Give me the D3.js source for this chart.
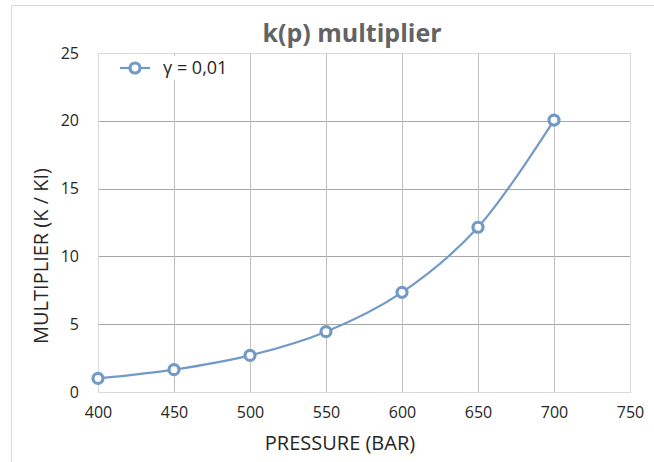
<!DOCTYPE html>
<html>
<head>
<meta charset="utf-8">
<script src="https://cdn.jsdelivr.net/npm/d3@7"></script>
<style>
  body { margin: 0; background: #fff; }
  text { font-family: "Open Sans", "Noto Sans", sans-serif; }
</style>
</head>
<body>
<div id="chart"></div>
<script>
// Chart data
const pressures = [400, 450, 500, 550, 600, 650, 700];
const multipliers = [1.0, 1.65, 2.7, 4.45, 7.35, 12.15, 20.05];
const xTicks = [400, 450, 500, 550, 600, 650, 700, 750];
const yTicks = [0, 5, 10, 15, 20, 25];
const seriesName = "γ = 0,01";

const W = 654, H = 462;
const margin = { top: 53, right: 24, bottom: 70, left: 98 },
    width = W - margin.left - margin.right,
    height = H - margin.top - margin.bottom;

const svgRoot = d3.select("#chart").append("svg")
    .attr("width", W)
    .attr("height", H);

// chart outer border
svgRoot.append("rect")
    .attr("x", 11.5).attr("y", 5.5)
    .attr("width", W).attr("height", H)
    .attr("fill", "none")
    .attr("stroke", "#d9d9d9");

const svg = svgRoot.append("g")
    .attr("transform", `translate(${margin.left},${margin.top})`);

const x = d3.scaleLinear().domain([400, 750]).range([0, width]);
const y = d3.scaleLinear().domain([0, 25]).range([height, 0]);

// grid
svg.selectAll(".hgrid")
    .data(yTicks.filter(d => d > 0 && d < 25))
    .join("line")
    .attr("x1", 0).attr("x2", width)
    .attr("y1", d => Math.round(y(d)) + 0.5).attr("y2", d => Math.round(y(d)) + 0.5)
    .attr("stroke", "#a6a6a6");

svg.selectAll(".vgrid")
    .data(xTicks.filter(d => d > 400 && d < 750))
    .join("line")
    .attr("y1", 0).attr("y2", height)
    .attr("x1", d => Math.round(x(d)) + 0.5).attr("x2", d => Math.round(x(d)) + 0.5)
    .attr("stroke", "#bfbfbf");

// plot frame (light)
svg.append("rect")
    .attr("x", 0.5).attr("y", 0.5)
    .attr("width", width).attr("height", height)
    .attr("fill", "none")
    .attr("stroke", "#d9d9d9");

// axes
const xAxis = svg.append("g")
    .attr("transform", `translate(0,${height})`)
    .call(d3.axisBottom(x).tickValues(xTicks).tickSize(0).tickPadding(15));
xAxis.select(".domain").remove();
xAxis.selectAll("text").style("font-size", "16px").attr("fill", "#262626");

const yAxis = svg.append("g")
    .call(d3.axisLeft(y).tickValues(yTicks).tickSize(0).tickPadding(19));
yAxis.select(".domain").remove();
yAxis.selectAll("text").style("font-size", "16px").attr("fill", "#262626");

// line
const data = pressures.map((p, i) => ({ p: p, k: multipliers[i] }));
const line = d3.line()
    .x(d => x(d.p))
    .y(d => y(d.k))
    .curve(d3.curveCatmullRom.alpha(0.5));

svg.append("path")
    .datum(data)
    .attr("fill", "none")
    .attr("stroke", "#7399c6")
    .attr("stroke-width", 2.2)
    .attr("d", line);

svg.selectAll(".pt")
    .data(data)
    .join("circle")
    .attr("cx", d => x(d.p))
    .attr("cy", d => y(d.k))
    .attr("r", 5)
    .attr("fill", "#fff")
    .attr("stroke", "#7399c6")
    .attr("stroke-width", 3.2);

// legend
const legend = svg.append("g").attr("transform", "translate(0,15)");
legend.append("rect")
    .attr("x", 14).attr("y", -12)
    .attr("width", 132).attr("height", 24)
    .attr("fill", "#fff");
legend.append("line")
    .attr("x1", 22).attr("x2", 52)
    .attr("stroke", "#7399c6").attr("stroke-width", 2.2);
legend.append("circle")
    .attr("cx", 37).attr("r", 5)
    .attr("fill", "#fff").attr("stroke", "#7399c6").attr("stroke-width", 3.2);
legend.append("text")
    .attr("x", 65).attr("dy", "0.35em")
    .style("font-size", "18px")
    .attr("fill", "#262626")
    .text(seriesName);

// title
svgRoot.append("text")
    .attr("x", 352).attr("y", 42)
    .attr("text-anchor", "middle")
    .style("font-size", "25px")
    .style("font-weight", "bold")
    .attr("fill", "#636363")
    .text("k(p) multiplier");

// X-axis label
svgRoot.append("text")
    .attr("x", 340).attr("y", 450)
    .attr("text-anchor", "middle")
    .style("font-size", "20px")
    .attr("fill", "#262626")
    .text("PRESSURE (BAR)");

// Y-axis label
svgRoot.append("text")
    .attr("transform", "rotate(-90)")
    .attr("x", -256).attr("y", 48)
    .attr("text-anchor", "middle")
    .style("font-size", "20px")
    .attr("fill", "#262626")
    .text("MULTIPLIER (K / KI)");
</script>
</body>
</html>
